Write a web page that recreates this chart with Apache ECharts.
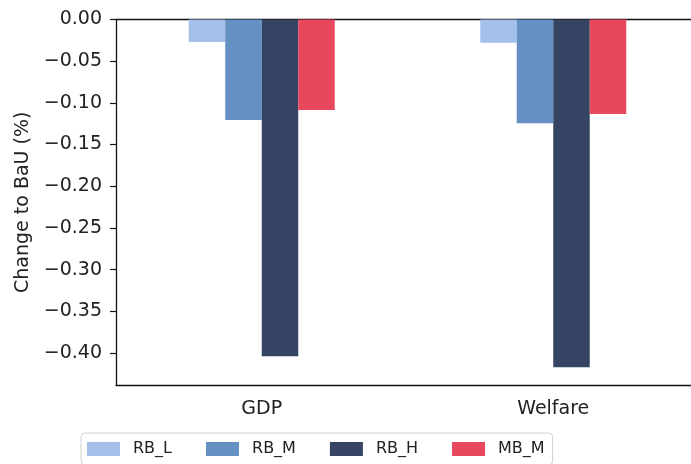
<!DOCTYPE html>
<html>
<head>
<meta charset="utf-8">
<script src="https://cdn.jsdelivr.net/npm/echarts@6/dist/echarts.min.js"></script>
<style>html,body{margin:0;padding:0;background:#fff;}#c{width:691px;height:464px;}</style>
</head>
<body>
<div id="c"></div>
<script>
const categories = ['GDP', 'Welfare'];
const seriesNames = ['RB_L', 'RB_M', 'RB_H', 'MB_M'];
const RB_L = [-0.027, -0.028];
const RB_M = [-0.1205, -0.1245];
const RB_H = [-0.404, -0.417];
const MB_M = [-0.1085, -0.1133];
const yTicks = [0, -0.05, -0.10, -0.15, -0.20, -0.25, -0.30, -0.35, -0.40];
const colors = ['#a4c0ea', '#6490c3', '#364463', '#e8485e'];

const values = [RB_L, RB_M, RB_H, MB_M];
const font = 'DejaVu Sans';
const chart = echarts.init(document.getElementById('c'), null, {renderer: 'canvas'});
chart.setOption({
  animation: false,
  backgroundColor: '#fff',
  grid: {left: 116, top: 19.5, height: 365.5, width: 583, containLabel: false, outerBoundsMode: 'none'},
  legend: {
    left: 81, top: 433,
    padding: [8, 8, 8, 6],
    itemWidth: 33, itemHeight: 14, itemGap: 34,
    borderColor: '#d0d0d0', borderWidth: 1, borderRadius: 4,
    icon: 'rect',
    textStyle: {fontFamily: font, fontSize: 16, color: '#222', padding: [0, 0, 0, 8]},
    data: seriesNames
  },
  xAxis: [{
    type: 'category', data: categories, position: 'bottom',
    axisLine: {onZero: false, lineStyle: {color: '#111', width: 1.3}},
    axisTick: {alignWithLabel: true, length: 6, lineStyle: {color: '#111', width: 1.2}},
    axisLabel: {fontFamily: font, fontSize: 19, color: '#222', margin: 15},
    splitLine: {show: false}
  }, {
    type: 'category', data: categories, position: 'top',
    axisLine: {onZero: false, lineStyle: {color: '#111', width: 1.3}},
    axisTick: {show: false}, axisLabel: {show: false}
  }],
  yAxis: {
    type: 'value', min: -0.4384, max: 0,
    name: 'Change to BaU (%)', nameLocation: 'middle', nameGap: 78, nameRotate: 90,
    nameTextStyle: {fontFamily: font, fontSize: 19, color: '#222'},
    axisLine: {show: true, lineStyle: {color: '#111', width: 1.3}},
    axisTick: {show: true, length: 6, customValues: yTicks, lineStyle: {color: '#111', width: 1.2}},
    axisLabel: {
      customValues: yTicks, fontFamily: font, fontSize: 19, color: '#222', margin: 14,
      formatter: v => (v < 0 ? '\u2212' : '') + Math.abs(v).toFixed(2)
    },
    splitLine: {show: false}
  },
  series: seriesNames.map((n, i) => ({
    name: n, type: 'bar', data: values[i], barWidth: 36.5, barGap: '0%',
    itemStyle: {color: colors[i]}
  }))
});
</script>
</body>
</html>
